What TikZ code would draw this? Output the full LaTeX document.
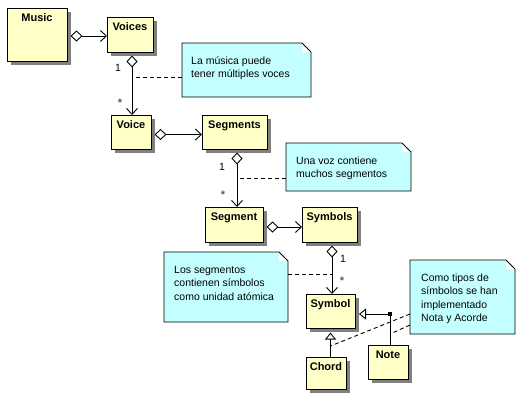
\documentclass[tikz,border=0pt]{standalone}
\usepackage{fontspec}
\setmainfont{Liberation Sans}
\usetikzlibrary{arrows.meta,calc,shadows}
\definecolor{clsfill}{RGB}{255,255,200}
\definecolor{notefill}{RGB}{196,255,255}
\definecolor{shadowgray}{RGB}{128,128,128}
\definecolor{starcol}{RGB}{120,85,50}
\newcommand{\umlnoteshape}[1]{%
  \fill[notefill] (#1.north west) -- ([xshift=-9pt]#1.north east) -- ([yshift=-9pt]#1.north east) -- (#1.south east) -- (#1.south west) -- cycle;
  \fill[white] ([xshift=-9pt]#1.north east) -- ([xshift=-9pt,yshift=-9pt]#1.north east) -- ([yshift=-9pt]#1.north east) -- cycle;
  \draw[outline] (#1.north west) -- ([xshift=-9pt]#1.north east) -- ([yshift=-9pt]#1.north east) -- (#1.south east) -- (#1.south west) -- cycle;}
\begin{document}
\begin{tikzpicture}[x=1pt,y=-1pt,
  outline/.style={line width=0.9pt, line join=miter},
  cls/.style={draw, outline, fill=clsfill, inner xsep=3pt, inner ysep=5pt,
    text height=8pt, outer sep=0pt, font=\fontsize{11}{13}\selectfont\bfseries,
    drop shadow={shadow xshift=4pt,shadow yshift=-4pt,fill=shadowgray,opacity=1}},
  notebox/.style={inner sep=0pt, outer sep=0pt},
  notetext/.style={anchor=north west, align=left, inner sep=0pt,
    font=\fontsize{10.5}{13.5}\selectfont},
  mult/.style={inner sep=0pt, font=\fontsize{10.5}{12}\selectfont},
  star/.style={inner sep=0pt, text=starcol, font=\fontsize{11}{12}\selectfont\bfseries},
  agg/.style={line width=0.9pt,
    {Diamond[fill=white,length=12pt,width=11pt,line width=0.9pt]}-{Straight Barb[length=6pt,width=11pt,line width=0.9pt]},
    shorten <=3.5pt},
  gen/.style={line width=0.9pt, -{Triangle[open,length=7pt,width=11pt,line width=0.9pt]}, shorten >=4pt},
  dsh/.style={line width=0.9pt, dash pattern=on 4pt off 3pt}]
\fill[white] (0,0) rectangle (520,400);
\useasboundingbox (0,0) rectangle (520,400);

% classes
\node[cls, minimum width=60pt, text depth=35pt] (music) at (37,34.5) {Music};
\node[cls, minimum width=46pt, text depth=17pt] (voices) at (130,34.5) {Voices};
\node[cls, minimum width=40pt, text depth=16pt] (voice) at (131,132) {Voice};
\node[cls, minimum width=65pt, text depth=16pt] (segments) at (234.5,132) {Segments};
\node[cls, minimum width=58pt, text depth=17pt] (segment) at (234,224.5) {Segment};
\node[cls, minimum width=55pt, text depth=17pt] (symbols) at (329.5,224.5) {Symbols};
\node[cls, minimum width=49pt, text depth=16pt] (symbol) at (330.5,311) {Symbol};
\node[cls, minimum width=40pt, text depth=14pt] (chord) at (326,373) {Chord};
\node[cls, minimum width=40pt, text depth=16pt] (note) at (388,362) {Note};

% notes
\node[notebox, minimum width=129pt, minimum height=54pt] (n1) at (246.5,70) {};
\node[notebox, minimum width=125pt, minimum height=48pt] (n2) at (348.5,167) {};
\node[notebox, minimum width=124pt, minimum height=70pt] (n3) at (226,287) {};
\node[notebox, minimum width=105pt, minimum height=74pt] (n4) at (462.5,297) {};
\umlnoteshape{n1}
\umlnoteshape{n2}
\umlnoteshape{n3}
\umlnoteshape{n4}
\node[notetext] (t1) at ([xshift=9pt,yshift=-11pt]n1.north west) {\rule{0pt}{10pt}La música puede\\tener múltiples voces};
\node[notetext] (t2) at ([xshift=10pt,yshift=-11pt]n2.north west) {\rule{0pt}{10pt}Una voz contiene\\muchos segmentos};
\node[notetext] (t3) at ([xshift=10pt,yshift=-11pt]n3.north west) {\rule{0pt}{10pt}Los segmentos\\contienen símbolos\\como unidad atómica};
\node[notetext] (t4) at ([xshift=11pt,yshift=-11pt]n4.north west) {\rule{0pt}{10pt}Como tipos de\\símbolos se han\\implementado\\Nota y Acorde};

% aggregations
\coordinate (a1) at ([yshift=-1.5pt]music.east);
\draw[agg] (a1) -- (a1 -| voices.west);
\coordinate (a2) at ([xshift=2pt]voices.south);
\draw[agg] (a2) -- (a2 |- voice.north);
\coordinate (a3) at ([yshift=-2.5pt]voice.east);
\draw[agg] (a3) -- (a3 -| segments.west);
\coordinate (a4) at ([xshift=2.5pt]segments.south);
\draw[agg] (a4) -- (a4 |- segment.north);
\coordinate (a5) at ([yshift=-2.5pt]segment.east);
\draw[agg] (a5) -- (a5 -| symbols.west);
\coordinate (a6) at ([xshift=2.5pt]symbols.south);
\draw[agg] (a6) -- (a6 |- symbol.north);

% multiplicities
\node[mult] (m1) at (118,68) {1};
\node[star] (s1) at (120,103) {*};
\node[mult] (m2) at (222,167) {1};
\node[star] (s2) at (223,195) {*};
\node[mult] (m3) at (343,259) {1};
\node[star] (s3) at (342,281) {*};

% generalizations
\coordinate (jn) at ($(symbol.east -| note.north)+(2,3)$);
\draw[gen] (jn) -- (jn -| symbol.east);
\draw[line width=0.9pt] (jn) -- (jn |- note.north);
\node[fill, inner sep=0pt, minimum size=3.5pt] (dot) at (jn) {};
\coordinate (c1) at (chord.north -| symbol.south);
\draw[gen, shorten >=4.5pt] (c1) -- (symbol.south);

% note anchors
\coordinate (d1) at ($(n1.west)+(0,7)$);
\draw[dsh] (d1) -- (d1 -| a2);
\coordinate (d2) at ($(n2.west)+(0,11)$);
\draw[dsh] (d2) -- (d2 -| a4);
\coordinate (d3) at ($(n3.east)+(0,-13)$);
\draw[dsh] (d3) -- (d3 -| a6);
\coordinate (d4) at ($(n4.west)+(0,17)$);
\draw[dsh] (d4) -- ($(c1)+(0,-11)$);
\coordinate (d5) at ($(n4.west)+(0,28)$);
\draw[dsh] (d5) -- ($(note.north)+(2,-11)$);
\end{tikzpicture}
\end{document}
